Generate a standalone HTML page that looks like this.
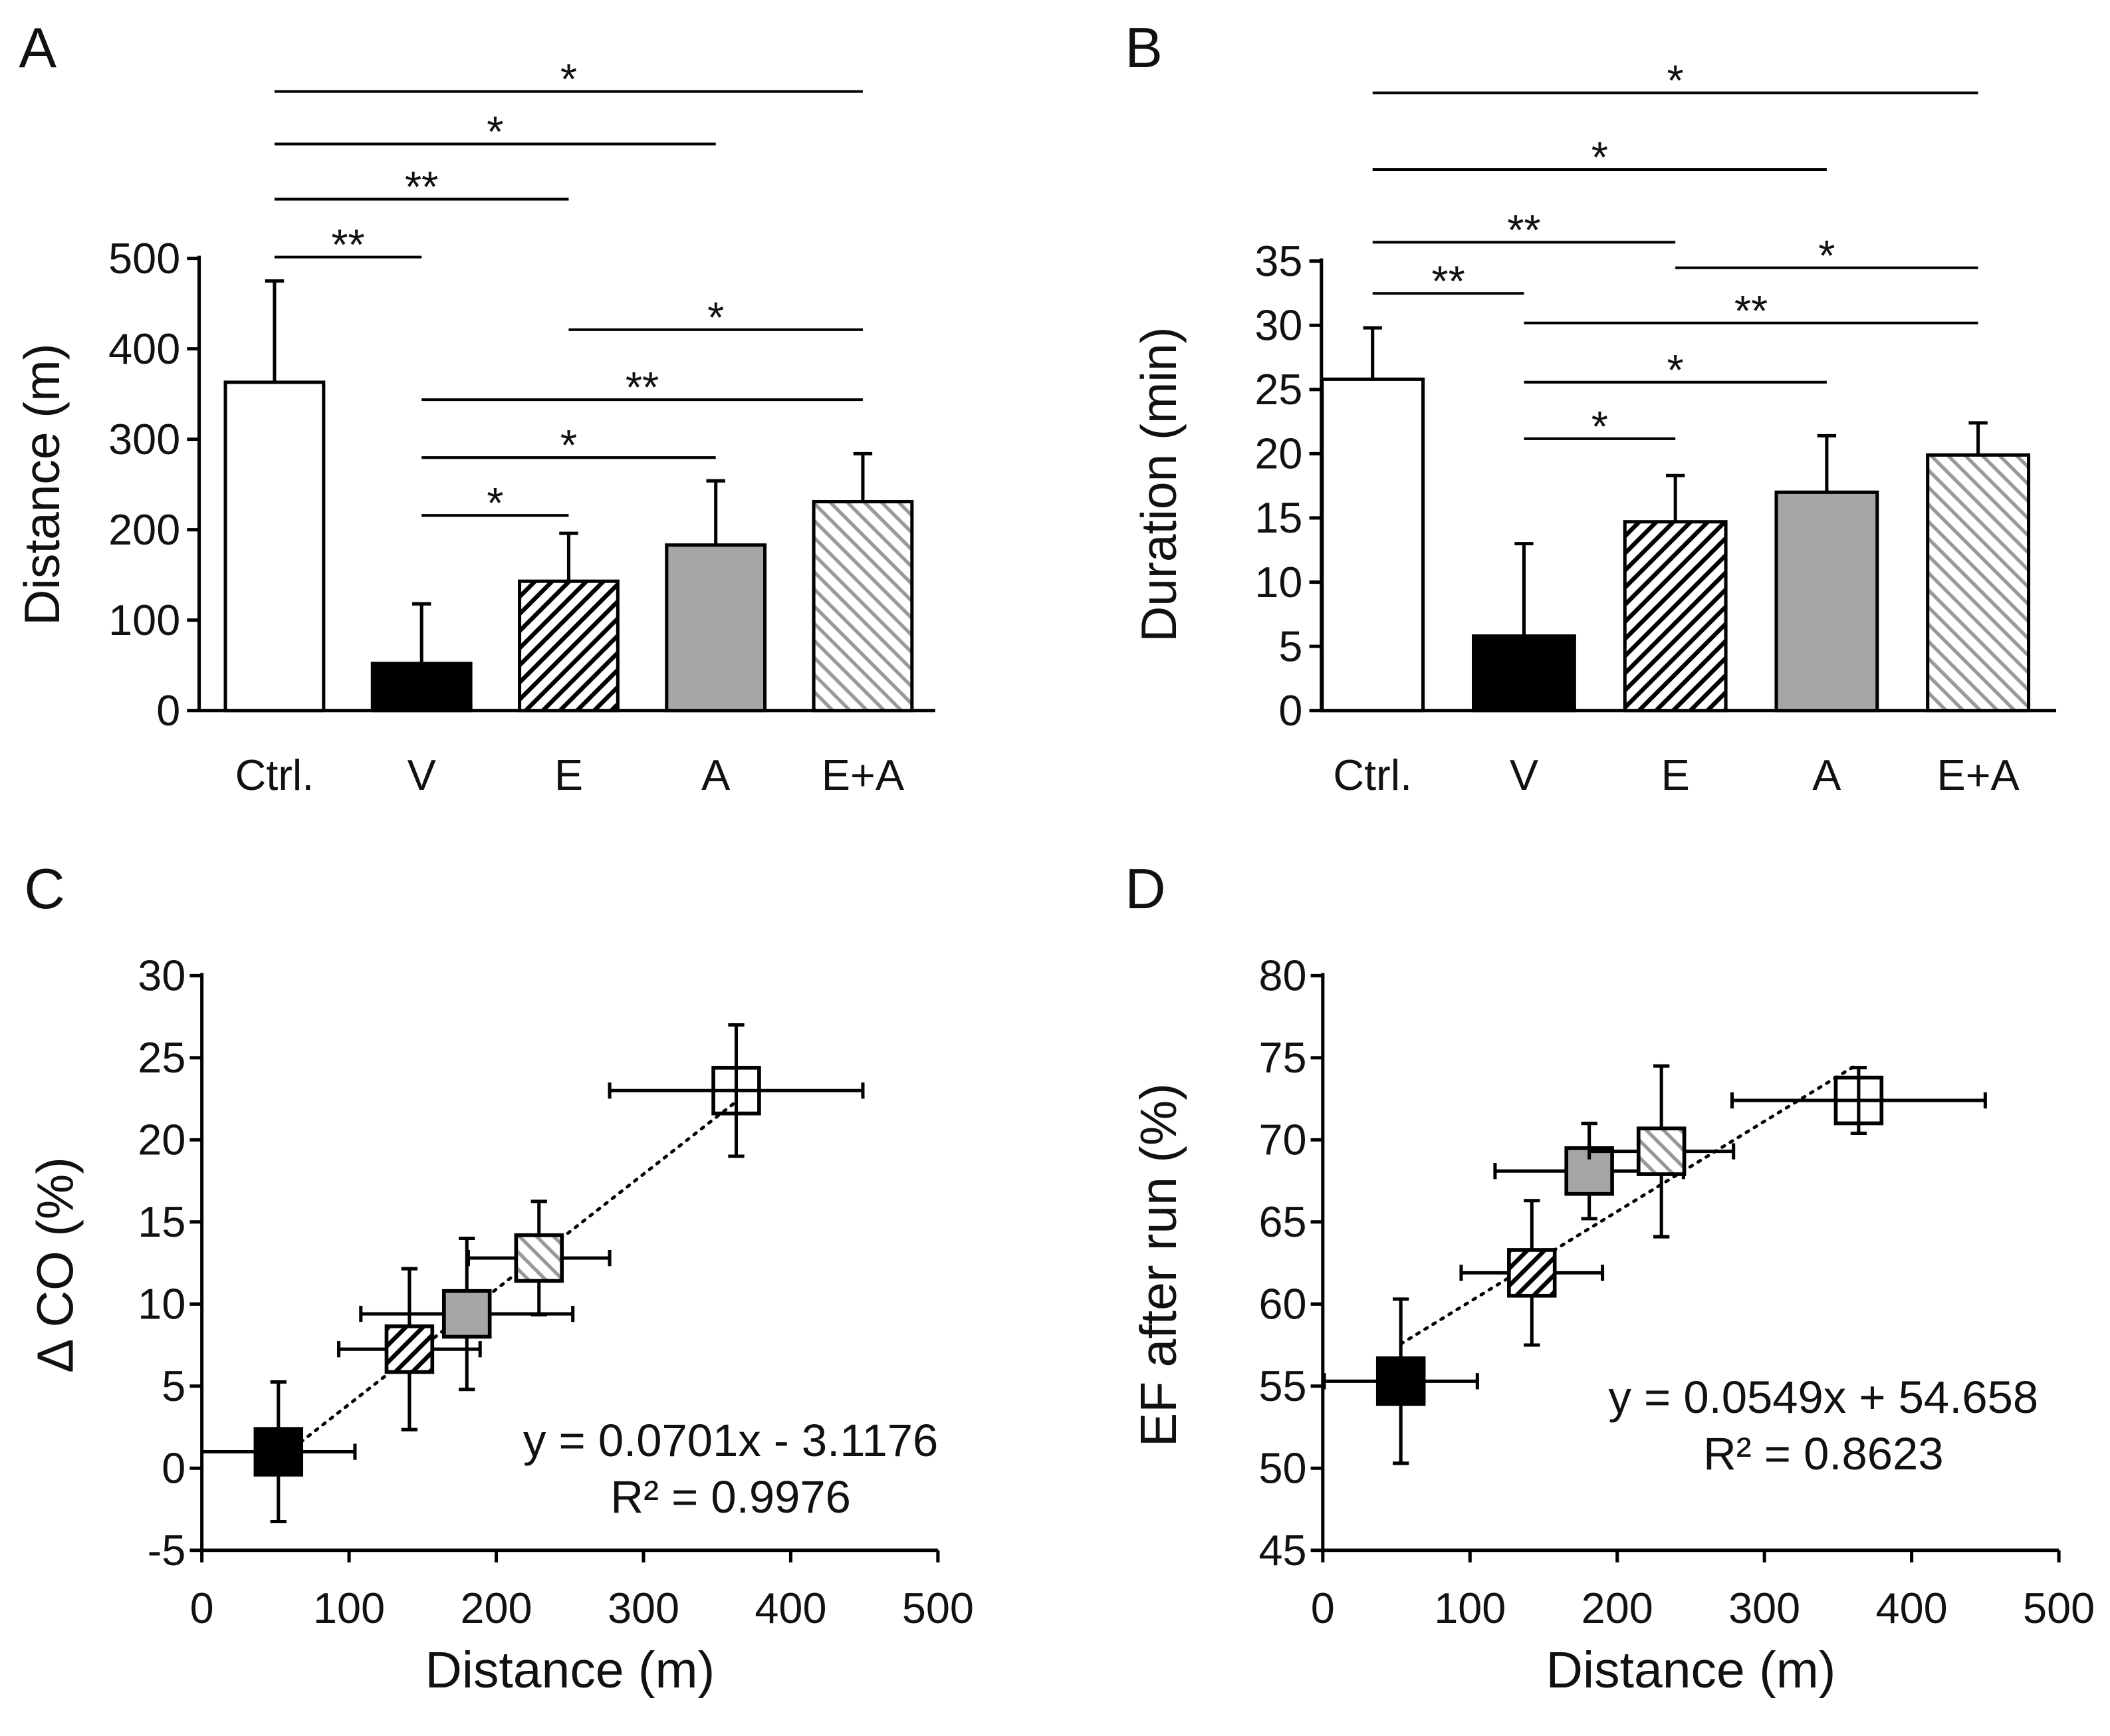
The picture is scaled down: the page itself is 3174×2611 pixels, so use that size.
<!DOCTYPE html>
<html><head><meta charset="utf-8"><style>html,body{margin:0;padding:0;background:#fff}svg{display:block}text{font-family:"Liberation Sans",Arial,sans-serif;fill:#111}</style></head>
<body>
<svg id="fig" xmlns="http://www.w3.org/2000/svg" width="3174" height="2611" viewBox="0 0 1568 1290" preserveAspectRatio="none">
<defs>
<pattern id="hatchE" patternUnits="userSpaceOnUse" width="9" height="9" patternTransform="rotate(45)"><rect width="9" height="9" fill="#fff"/><rect x="0" y="0" width="3.2" height="9" fill="#000"/></pattern>
<pattern id="hatchEA" patternUnits="userSpaceOnUse" width="9" height="9" patternTransform="rotate(-45)"><rect width="9" height="9" fill="#fff"/><rect x="0" y="0" width="2.6" height="9" fill="#999"/></pattern>
</defs>
<g id="root"></g>
</svg>
<script>
const cats=["Ctrl.","V","E","A","E+A"];
const fills=["#fff","#000","url(#hatchE)","#a6a6a6","url(#hatchEA)"];
const distMean=[363,52,143,183,231];
const distErr=[112,66,53,71,53];
const durMean=[25.8,5.8,14.7,17.0,19.9];
const durErr=[4.0,7.2,3.6,4.4,2.5];
const yTicksA=[0,100,200,300,400,500];
const yTicksB=[0,5,10,15,20,25,30,35];
const sigA=[[0,4,68,"*"],[0,3,107,"*"],[0,2,148,"**"],[0,1,191,"**"],[2,4,245,"*"],[1,4,297,"**"],[1,3,340,"*"],[1,2,383,"*"]];
const sigB=[[0,4,69,"*"],[0,3,126,"*"],[0,2,180,"**"],[2,4,199,"*"],[0,1,218,"**"],[1,4,240,"**"],[1,3,284,"*"],[1,2,326,"*"]];
// scatter data (order Ctrl, V, E, A, E+A)
const scX=[363,52,141,180,229];
const scXErr=[86,52,48,72,48];
const coY=[23.0,1.0,7.25,9.4,12.8];
const coYErr=[4.0,4.25,4.9,4.6,3.45];
const efX=[364,53,142,181,230];
const efXErr=[86,52,48,64,49];
const efY=[72.4,55.3,61.9,68.1,69.3];
const efYErr=[2.0,5.0,4.4,2.9,5.2];
const xTicksSc=[0,100,200,300,400,500];
const yTicksC=[-5,0,5,10,15,20,25,30];
const yTicksD=[45,50,55,60,65,70,75,80];
const fitC=[0.0701,-3.1176];
const fitD=[0.0549,54.658];

const NS="http://www.w3.org/2000/svg";
const root=document.getElementById('root');
function el(tag,attrs,parent,txt){const e=document.createElementNS(NS,tag);for(const k in attrs)e.setAttribute(k,attrs[k]);if(txt!==undefined)e.textContent=txt;(parent||root).appendChild(e);return e;}
function line(x1,y1,x2,y2,w,p,extra){return el('line',Object.assign({x1,y1,x2,y2,stroke:'#000','stroke-width':w||2.5},extra||{}),p);}

function barPanel(o){
  const g=el('g',{});
  
  
  const ys=v=>o.y0-(v-o.ymin)/(o.ymax-o.ymin)*(o.y0-o.y1);
  const xs=i=>o.cx0+i*o.step;
  const ax=line(o.ax,o.y1-2,o.ax,o.y0,2.5,g);
  
  const xa=line(o.ax,o.y0,o.axEnd,o.y0,2.5,g);
  
  o.ticks.forEach(t=>{line(o.ax-9,ys(t),o.ax,ys(t),2.5,g);
    const tx=el('text',{x:o.ax-14,y:ys(t)+11,'font-size':32,'text-anchor':'end'},g,String(t));
    });
  cats.forEach((c,i)=>{
    const x=xs(i),top=ys(o.mean[i]);
    const e=ys(o.mean[i]+o.err[i]);
    line(x,top,x,e,2.5,g);line(x-7,e,x+7,e,2.5,g);
    const r=el('rect',{x:x-o.bw/2,y:top,width:o.bw,height:o.y0-top,fill:fills[i],stroke:'#000','stroke-width':2.5},g);
    
    
    const t=el('text',{x:x,y:o.y0+59,'font-size':32,'text-anchor':'middle'},g,c);
    
  });
  o.sig.forEach(s=>{
    const l=line(xs(s[0]),s[2],xs(s[1]),s[2],2,g);
    
    const t=el('text',{x:(xs(s[0])+xs(s[1]))/2,y:s[2]+2,'font-size':32,'text-anchor':'middle'},g,s[3]);
    
  });
  const tt=el('text',{x:0,y:0,'font-size':37,'text-anchor':'middle',transform:`translate(${o.titleX},${o.titleY}) rotate(-90)`},g,o.title);
  
}
barPanel({name:'panel-a-chart',ax:148,axEnd:695,y0:528,y1:192,ymin:0,ymax:500,ticks:yTicksA,cx0:204,step:109.3,bw:73,mean:distMean,err:distErr,sig:sigA,title:'Distance (m)',titleX:44,titleY:360});
barPanel({name:'panel-b-chart',ax:982,axEnd:1528,y0:528,y1:194,ymin:0,ymax:35,ticks:yTicksB,cx0:1020,step:112.5,bw:75,mean:durMean,err:durErr,sig:sigB,title:'Duration (min)',titleX:874,titleY:360});

function scatterPanel(o){
  const g=el('g',{});
  
  
  const xs=v=>o.x0+(v-o.xmin)/(o.xmax-o.xmin)*(o.x1-o.x0);
  const ys=v=>o.y0-(v-o.ymin)/(o.ymax-o.ymin)*(o.y0-o.y1);
  const ay=line(o.x0,o.y1-2,o.x0,o.y0,2.5,g);
  const axl=line(o.x0,o.y0,o.x1,o.y0,2.5,g);
  o.yt.forEach(t=>{line(o.x0-9,ys(t),o.x0,ys(t),2.5,g);
    const tx=el('text',{x:o.x0-12,y:ys(t)+11,'font-size':32,'text-anchor':'end'},g,String(t));
    });
  xTicksSc.forEach(t=>{line(xs(t),o.y0,xs(t),o.y0+9,2.5,g);
    const tx=el('text',{x:xs(t),y:o.y0+54,'font-size':32,'text-anchor':'middle'},g,String(t));
    });
  const xa=Math.min(...o.x),xb=Math.max(...o.x);
  const tl=line(xs(xa),ys(o.fit[0]*xa+o.fit[1]),xs(xb),ys(o.fit[0]*xb+o.fit[1]),2.4,g,{'stroke-dasharray':'2 5','stroke-linecap':'round'});
  
  [1,2,3,4,0].forEach(i=>{
    const cx=xs(o.x[i]),cy=ys(o.y[i]);
    const xl=xs(Math.max(o.xmin,o.x[i]-o.xe[i])),xr=xs(o.x[i]+o.xe[i]);
    const yt=ys(o.y[i]+o.ye[i]),yb=ys(o.y[i]-o.ye[i]);
    line(xl,cy,xr,cy,2.5,g);line(xr,cy-6,xr,cy+6,2.5,g);if(o.x[i]-o.xe[i]>o.xmin)line(xl,cy-6,xl,cy+6,2.5,g);
    line(cx,yt,cx,yb,2.5,g);line(cx-6,yt,cx+6,yt,2.5,g);line(cx-6,yb,cx+6,yb,2.5,g);
    const r=el('rect',{x:cx-17,y:cy-17,width:34,height:34,fill:fills[i],'fill-opacity':i===0?0:1,stroke:'#000','stroke-width':2.8},g);
    
    
  });
  const e1=el('text',{x:o.eqX,y:o.eqY,'font-size':34,'text-anchor':'middle'},g,o.eq1);
  
  const e2=el('text',{x:o.eqX,y:o.eqY+42,'font-size':34,'text-anchor':'middle'},g,o.eq2);
  
  const xt=el('text',{x:(o.x0+o.x1)/2,y:o.y0+102,'font-size':38,'text-anchor':'middle'},g,'Distance (m)');
  
  const tt=el('text',{x:0,y:0,'font-size':38,'text-anchor':'middle',transform:`translate(${o.titleX},${o.titleY}) rotate(-90)`},g,o.title);
  
}
scatterPanel({name:'panel-c-chart',x0:150,x1:697,y0:1152,y1:725,xmin:0,xmax:500,ymin:-5,ymax:30,yt:yTicksC,x:scX,xe:scXErr,y:coY,ye:coYErr,fit:fitC,eq1:'y = 0.0701x - 3.1176',eq2:'R² = 0.9976',eqX:543,eqY:1082,title:'Δ CO (%)',titleX:54,titleY:940});
scatterPanel({name:'panel-d-chart',x0:983,x1:1530,y0:1152,y1:725,xmin:0,xmax:500,ymin:45,ymax:80,yt:yTicksD,x:efX,xe:efXErr,y:efY,ye:efYErr,fit:fitD,eq1:'y = 0.0549x + 54.658',eq2:'R² = 0.8623',eqX:1355,eqY:1050,title:'EF after run (%)',titleX:874,titleY:940});

[['A',14,50],['B',836,50],['C',18,675],['D',836,675]].forEach(p=>{
  const t=el('text',{x:p[1],y:p[2],'font-size':42},root,p[0]);
  
  
});
</script>
</body></html>
